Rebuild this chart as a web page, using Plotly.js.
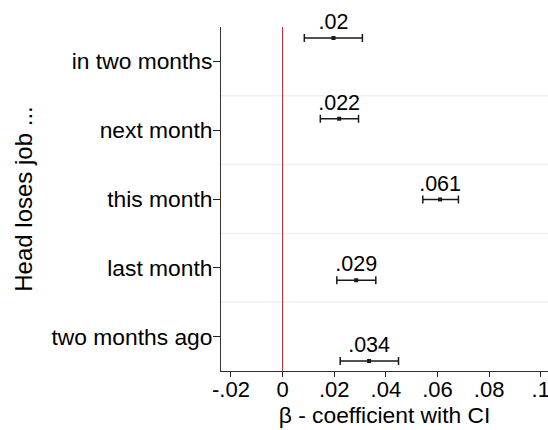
<!DOCTYPE html>
<html>
<head>
<meta charset="utf-8">
<script src="https://cdn.plot.ly/plotly-3.0.1.min.js"></script>
<style>html,body{margin:0;padding:0;background:#fff;}#chart{width:548px;height:430px;}</style>
</head>
<body>
<div id="chart"></div>
<script>
// categories from bottom to top
const categories = ["two months ago", "last month", "this month", "next month", "in two months"];
const estimates  = [0.0335, 0.0285, 0.0610, 0.0219, 0.0197];
const ciLow      = [0.0223, 0.0210, 0.0543, 0.0146, 0.0084];
const ciHigh     = [0.0449, 0.0361, 0.0681, 0.0294, 0.0309];
const labels     = [".034", ".029", ".061", ".022", ".02"];
const xTickVals  = [-0.02, 0, 0.02, 0.04, 0.06, 0.08, 0.1];
const xTickText  = ["-.02", "0", ".02", ".04", ".06", ".08", ".1"];

const idx = categories.map((c, i) => i);
const FONT = "Liberation Sans, Arial, sans-serif";

const traces = [
  {
    type: "scatter", mode: "markers+text",
    x: estimates, y: idx, yaxis: "y2",
    text: labels, textposition: "top center",
    textfont: {family: FONT, size: 21.5, color: "#000"},
    marker: {symbol: "square", size: 4, color: "#1a1a1a"},
    error_x: {
      type: "data", symmetric: false,
      array: estimates.map((e, i) => ciHigh[i] - e),
      arrayminus: estimates.map((e, i) => e - ciLow[i]),
      color: "#1a1a1a", thickness: 1.5, width: 4
    },
    cliponaxis: false, hoverinfo: "skip", showlegend: false
  }
];

// light grid lines on the boundaries between categories
const gridShapes = idx.slice(1).map(i => ({
  type: "line", xref: "paper", yref: "y", x0: 0, x1: 1, y0: i - 0.5, y1: i - 0.5,
  line: {color: "#eaf2f3", width: 1.5}, layer: "below"
}));

const layout = {
  width: 548, height: 430,
  margin: {l: 221, r: 0, t: 27, b: 59},
  paper_bgcolor: "#fff", plot_bgcolor: "#fff",
  font: {family: FONT, color: "#000"},
  showlegend: false,
  xaxis: {
    range: [-0.02387, 0.1028],
    tickmode: "array", tickvals: xTickVals, ticktext: xTickText,
    ticks: "outside", ticklen: 5, tickwidth: 1, tickcolor: "#222",
    ticklabelstandoff: -6, ticklabeloverflow: "allow",
    tickfont: {family: FONT, size: 22, color: "#000"},
    showgrid: false, zeroline: false,
    showline: true, linecolor: "#333", linewidth: 1,
    title: {text: "β - coefficient with CI", font: {family: FONT, size: 22.8, color: "#000"}, standoff: 0}
  },
  yaxis: {
    range: [-0.5, categories.length - 0.5],
    tickmode: "array", tickvals: idx, ticktext: categories,
    ticks: "outside", ticklen: 7, tickwidth: 1, tickcolor: "#222",
    ticklabelstandoff: -4,
    tickfont: {family: FONT, size: 22.8, color: "#000"},
    showgrid: false, zeroline: false,
    showline: true, linecolor: "#333", linewidth: 1,
    title: {text: "Head loses job ...", font: {family: FONT, size: 24, color: "#000"}, standoff: 12}
  },
  yaxis2: {
    overlaying: "y", anchor: "x", side: "left", visible: false,
    range: [-0.124, categories.length - 1 + 0.136]
  },
  shapes: gridShapes.concat([
    {type: "line", xref: "x", yref: "paper", x0: 0, x1: 0, y0: 0, y1: 1,
     line: {color: "#b5202a", width: 1}}
  ])
};

Plotly.newPlot("chart", traces, layout, {staticPlot: true, displayModeBar: false});
</script>
</body>
</html>
